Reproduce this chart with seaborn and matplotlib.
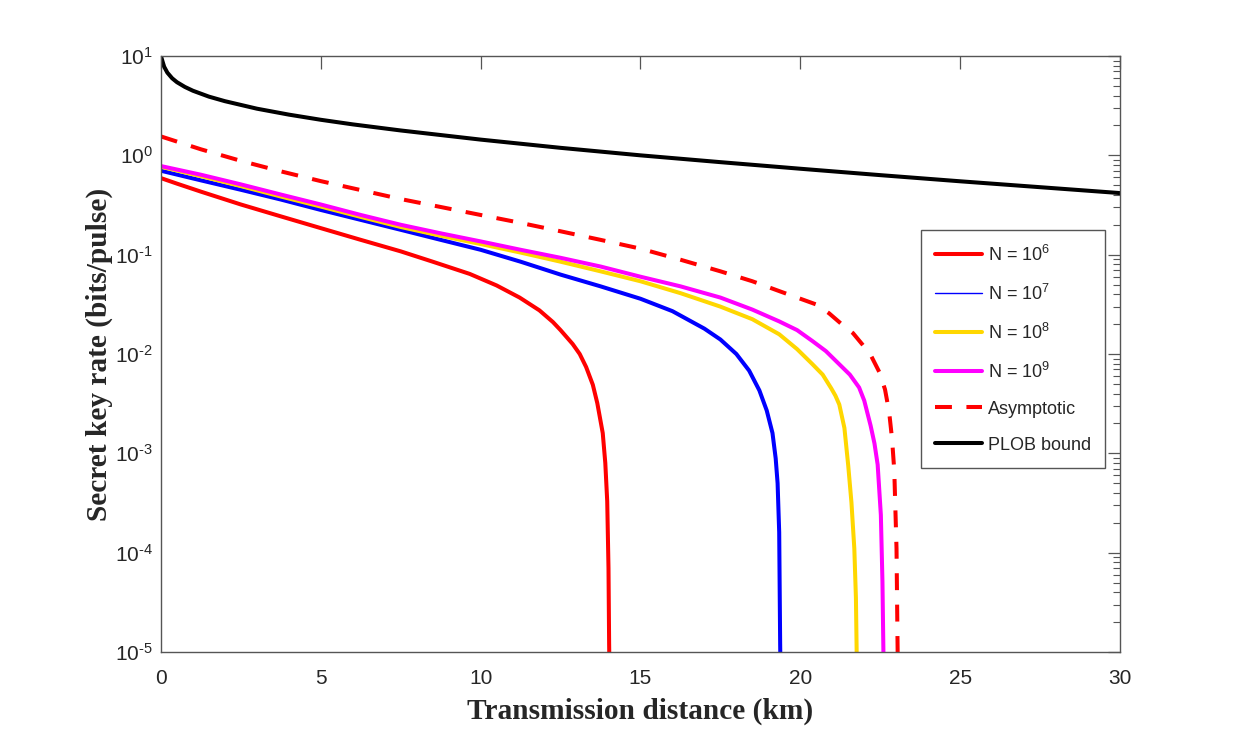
import matplotlib
matplotlib.use("Agg")
import matplotlib.pyplot as plt
from matplotlib.lines import Line2D
from matplotlib.ticker import FixedLocator, FixedFormatter
import seaborn as sns

# values (x in km, y in bits/pulse)
plob_x = [0, 0.05, 0.1, 0.2, 0.35, 0.5, 0.75, 1, 1.5, 2, 3, 4, 5, 6, 7.5, 10,
          12.5, 15, 17.5, 20, 22.5, 25, 27.5, 30]
plob_y = [10.0, 8.8, 7.8, 6.8, 5.97, 5.45, 4.88, 4.47, 3.9, 3.51, 2.95, 2.57, 2.28,
          2.05, 1.78, 1.44, 1.19, 1.0, 0.854, 0.733, 0.632, 0.548, 0.478, 0.417]

asym_x = [0, 1.25, 2.5, 3.75, 5, 6.25, 7.5, 8.75, 10, 11.25, 12.5, 13.75, 15,
          16.25, 17.5, 18.5, 19.34, 19.9, 20.49, 20.9, 21.3, 21.65, 21.94, 22.2,
          22.47, 22.65, 22.78, 22.87, 22.94, 23.01, 23.04, 23.06]
asym_y = [1.55, 1.15, 0.88, 0.69, 0.55, 0.447, 0.363, 0.302, 0.251, 0.209, 0.172,
          0.141, 0.115, 0.089, 0.068, 0.054, 0.043, 0.037, 0.0316, 0.0257, 0.0199,
          0.0162, 0.0125, 0.0098, 0.0066, 0.0044, 0.0026, 0.0014, 6.7e-4, 1.1e-4,
          1.4e-5, 4e-6]

n9_x = [0, 1.25, 2.5, 3.75, 5, 6.25, 7.5, 8.75, 10, 11.25, 12.5, 13.75, 15, 16.25,
        17.5, 18.5, 19.34, 19.9, 20.38, 20.8, 21.2, 21.55, 21.84, 22.0, 22.2, 22.32,
        22.42, 22.52, 22.57, 22.6, 22.62]
n9_y = [0.78, 0.638, 0.51, 0.403, 0.32, 0.251, 0.20, 0.164, 0.136, 0.112, 0.093,
        0.076, 0.060, 0.048, 0.037, 0.028, 0.0213, 0.0174, 0.0135, 0.0107, 0.0080,
        0.0062, 0.0046, 0.0034, 0.0019, 0.00126, 7.7e-4, 2.4e-4, 5.1e-5, 1e-5, 4e-6]

n8_x = [0, 1.25, 2.5, 3.75, 5, 6.25, 7.5, 8.75, 10, 11.25, 12.5, 13.75, 15, 16.25,
        17.5, 18.5, 19.34, 19.9, 20.38, 20.7, 20.97, 21.1, 21.22, 21.38, 21.5, 21.6,
        21.69, 21.74, 21.76, 21.78]
n8_y = [0.767, 0.617, 0.49, 0.385, 0.305, 0.24, 0.19, 0.155, 0.128, 0.105, 0.085,
        0.068, 0.054, 0.041, 0.030, 0.0224, 0.0158, 0.0112, 0.0079, 0.0062, 0.0045,
        0.0038, 0.0031, 0.0018, 7.5e-4, 3.2e-4, 1.1e-4, 3.5e-5, 1.2e-5, 4e-6]

n7_x = [0, 1.25, 2.5, 3.75, 5, 6.25, 7.5, 8.75, 10, 11.25, 12.5, 13.75, 15, 16,
        17, 17.5, 18, 18.4, 18.72, 18.95, 19.13, 19.23, 19.29, 19.34, 19.37, 19.39]
n7_y = [0.70, 0.56, 0.45, 0.359, 0.282, 0.224, 0.178, 0.141, 0.112, 0.085, 0.063,
        0.048, 0.036, 0.027, 0.018, 0.014, 0.010, 0.0068, 0.0043, 0.0027, 0.0016,
        8.9e-4, 5e-4, 1.6e-4, 1.2e-5, 4e-6]

n6_x = [0, 0.5, 1.25, 2.5, 3.75, 5, 6.25, 7.5, 8.5, 9.66, 10.5, 11.22, 11.84,
        12.26, 12.5, 12.88, 13.1, 13.3, 13.51, 13.65, 13.82, 13.9, 13.96, 14.0,
        14.02, 14.04]
n6_y = [0.59, 0.519, 0.431, 0.32, 0.243, 0.185, 0.141, 0.108, 0.085, 0.064, 0.049,
        0.037, 0.0275, 0.021, 0.0174, 0.0126, 0.010, 0.0074, 0.0049, 0.0032, 0.0016,
        8e-4, 3.3e-4, 7e-5, 1.2e-5, 4e-6]

x_ticks = [0, 5, 10, 15, 20, 25, 30]
y_exps = [1, 0, -1, -2, -3, -4, -5]

sns.set_theme(style="white")
plt.rcParams['font.family'] = ['Liberation Sans', 'DejaVu Sans']
plt.rcParams['mathtext.fontset'] = 'custom'
plt.rcParams['mathtext.rm'] = 'Liberation Sans'
plt.rcParams['mathtext.it'] = 'Liberation Sans:italic'

fig = plt.figure(figsize=(12.4, 7.34), dpi=100)
ax = fig.add_axes([0.1298, 0.1117, 0.7734, 0.812])

lw = 2.9
series = [
    (n6_x, n6_y, '#ff0000', '-'),
    (n7_x, n7_y, '#0000ff', '-'),
    (n8_x, n8_y, '#ffd700', '-'),
    (n9_x, n9_y, '#ff00ff', '-'),
    (asym_x, asym_y, '#ff0000', '--'),
    (plob_x, plob_y, '#000000', '-'),
]
for xs, ys, c, ls in series:
    sns.lineplot(x=xs, y=ys, ax=ax, color=c, linewidth=lw, sort=False,
                 estimator=None, legend=False)
    if ls == '--':
        ax.lines[-1].set_dashes((4.2, 3.6))

ax.set_yscale('log')
ax.set_xlim(0, 30)
ax.set_ylim(1e-5, 10)
ax.set_xticks(x_ticks)

# MATLAB-style labels with a short hyphen in the exponent
y_labels = [r'$\mathdefault{10^{%s}}$' % (('\\text{-}%d' % -e) if e < 0 else str(e))
            for e in y_exps]
ax.yaxis.set_major_locator(FixedLocator([10.0 ** e for e in y_exps]))
ax.yaxis.set_major_formatter(FixedFormatter(y_labels))

spine_c = '#555555'
for s in ax.spines.values():
    s.set_color(spine_c)
    s.set_linewidth(1.0)
ax.tick_params(which='both', direction='in', top=True, right=True,
               color=spine_c, labelcolor='#262626', labelsize=15)
ax.tick_params(which='major', length=9, width=0.9)
ax.tick_params(which='minor', length=5, width=0.8)
ax.tick_params(axis='x', pad=12)
ax.tick_params(axis='y', pad=6)

lab_font = dict(family='Liberation Serif', weight='bold', size=21.2, color='#262626')
ax.set_xlabel('Transmission distance (km)', labelpad=7, **lab_font)
ax.set_ylabel('Secret key rate (bits/pulse)', labelpad=1, **lab_font)

handles = [
    Line2D([], [], color='#ff0000', lw=lw),
    Line2D([], [], color='#0000ff', lw=1.0),
    Line2D([], [], color='#ffd700', lw=lw),
    Line2D([], [], color='#ff00ff', lw=lw),
    Line2D([], [], color='#ff0000', lw=lw, dashes=(4.2, 3.6)),
    Line2D([], [], color='#000000', lw=lw),
]
labels = [r'N = $\mathdefault{10^{6}}$', r'N = $\mathdefault{10^{7}}$',
          r'N = $\mathdefault{10^{8}}$', r'N = $\mathdefault{10^{9}}$',
          'Asymptotic', 'PLOB bound']
leg = ax.legend(handles, labels, loc='upper left', bbox_to_anchor=(0.7925, 0.708),
                fontsize=13, frameon=True, fancybox=False, framealpha=1,
                edgecolor=spine_c, handlelength=2.6, handletextpad=0.3,
                labelspacing=1.05, borderpad=0.8, borderaxespad=0)
leg.get_frame().set_linewidth(1.0)

fig.savefig('out.png', dpi=100, facecolor='white')
